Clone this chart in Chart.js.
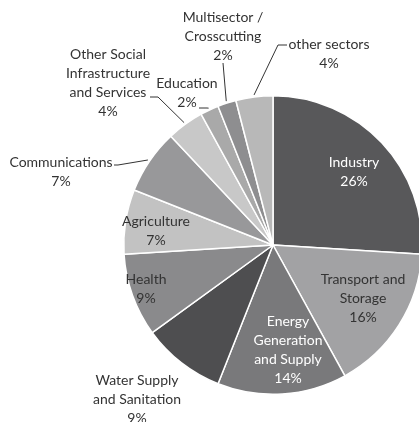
<!DOCTYPE html>
<html>
<head>
<meta charset="utf-8">
<script src="https://cdn.jsdelivr.net/npm/chart.js@4/dist/chart.umd.min.js"></script>
<style>
  html, body { margin: 0; padding: 0; background: #fff; }
  #wrap { width: 419px; height: 422px; overflow: hidden; position: relative; }
  #chart { position: absolute; left: 0; top: 0; }
</style>
</head>
<body>
<div id="wrap"><canvas id="chart" width="546" height="422"></canvas></div>
<script>
// sectors, clockwise from 12 o'clock
const sectors = [
    ['Industry'],
    ['Transport and', 'Storage'],
    ['Energy', 'Generation', 'and Supply'],
    ['Water Supply', 'and Sanitation'],
    ['Health'],
    ['Agriculture'],
    ['Communications'],
    ['Other Social', 'Infrastructure', 'and Services'],
    ['Education'],
    ['Multisector /', 'Crosscutting'],
    ['other sectors']
];
const shares = [26, 16, 14, 9, 9, 7, 7, 4, 2, 2, 4];
const sliceColors = ['#58585a', '#a2a2a4', '#79797b', '#4e4e50', '#8a8a8c', '#c2c2c2',
                     '#98989a', '#c8c8c8', '#a9a9a9', '#8e8e90', '#b8b8b8'];

// label placement: block centre relative to pie centre (px), text colour,
// leader = elbow points relative to pie centre
const labelLayout = [
    { x: 81, y: -73, color: '#ffffff' },
    { x: 90, y: 53, color: '#333333' },
    { x: 15, y: 105, color: '#ffffff' },
    { x: -136, y: 154, color: '#333333' },
    { x: -127, y: 44, color: '#333333' },
    { x: -117, y: -14, color: '#333333' },
    { x: -212, y: -73, color: '#333333', leader: [-155, -80, -159, -80] },
    { x: -165, y: -162, color: '#333333', leader: [-115, -148, -123, -148] },
    { x: -86, y: -152, color: '#333333', leader: [-66, -137, -74, -137] },
    { x: -50, y: -209, color: '#333333', leader: [-50, -182] },
    { x: 56, y: -191, color: '#333333', leader: [5, -200, 14, -200] }
];

const lineH = 19;

const labelPlugin = {
    id: 'sliceLabels',
    afterDatasetsDraw(chart) {
        const ctx = chart.ctx;
        const arcs = chart.getDatasetMeta(0).data;
        ctx.save();
        ctx.font = '14px Lato, "Open Sans", sans-serif';
        ctx.textAlign = 'center';
        ctx.textBaseline = 'middle';
        arcs.forEach((arc, i) => {
            const cx = arc.x, cy = arc.y;
            const lay = labelLayout[i];
            const mid = (arc.startAngle + arc.endAngle) / 2;
            // leader line from slice edge
            if (lay.leader) {
                const r = arc.outerRadius + 2;
                ctx.strokeStyle = '#333333';
                ctx.lineWidth = 1;
                ctx.beginPath();
                ctx.moveTo(cx + Math.cos(mid) * r, cy + Math.sin(mid) * r);
                for (let k = 0; k < lay.leader.length; k += 2) {
                    ctx.lineTo(cx + lay.leader[k], cy + lay.leader[k + 1]);
                }
                ctx.stroke();
            }
            const lines = sectors[i].concat([shares[i] + '%']);
            const top = cy + lay.y - (lines.length - 1) * lineH / 2;
            ctx.fillStyle = lay.color;
            lines.forEach((t, j) => ctx.fillText(t, cx + lay.x, top + j * lineH));
        });
        ctx.restore();
    }
};

new Chart(document.getElementById('chart'), {
    type: 'pie',
    data: {
        labels: sectors.map(s => s.join(' ')),
        datasets: [{
            data: shares,
            backgroundColor: sliceColors,
            borderColor: '#ffffff',
            borderWidth: 1.5
        }]
    },
    options: {
        responsive: false,
        animation: false,
        layout: { padding: { top: 95, bottom: 27, left: 123, right: 123 } },
        plugins: {
            legend: { display: false },
            tooltip: { enabled: false }
        }
    },
    plugins: [labelPlugin]
});
</script>
</body>
</html>
